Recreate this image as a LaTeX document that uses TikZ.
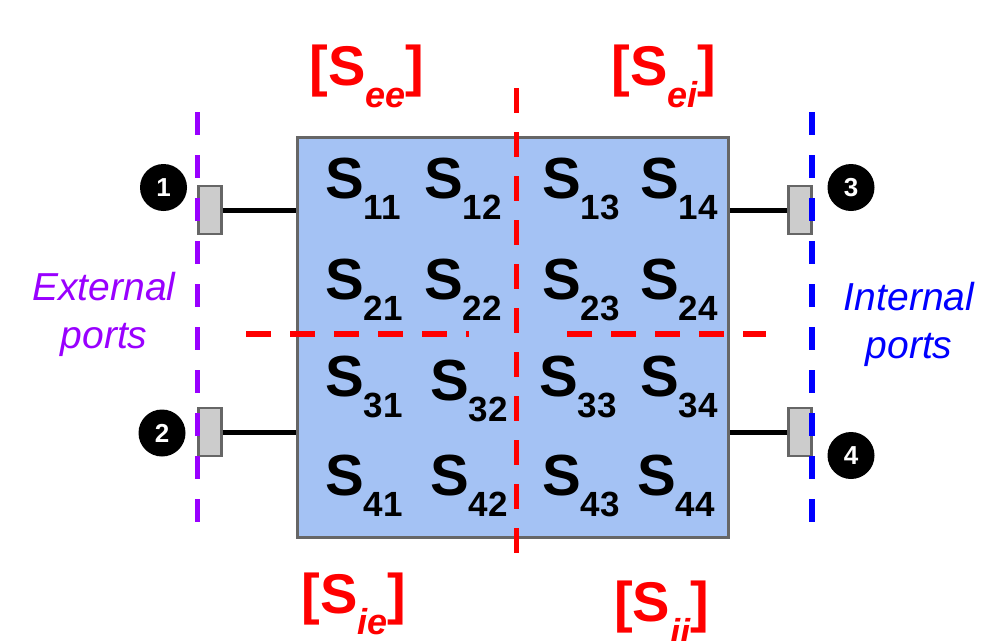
\documentclass[tikz,border=0pt]{standalone}
\usepackage{fontspec}
\setmainfont{Liberation Sans}
\definecolor{cellblue}{HTML}{A4C2F4}
\definecolor{linegray}{HTML}{666666}
\definecolor{portgray}{HTML}{CCCCCC}
\definecolor{extpurple}{HTML}{9900FF}
\newcommand{\Sel}[1]{S\raisebox{-21pt}{\fontsize{35}{35}\selectfont #1}}
\newcommand{\Sblk}[2]{[S\raisebox{-#2}{\fontsize{36}{36}\selectfont\itshape #1}]}
\begin{document}
\begin{tikzpicture}[x=1pt,y=-1pt,
    port/.style={draw=linegray,fill=portgray,line width=2.5pt,minimum width=23pt,minimum height=48pt,inner sep=0pt},
    wire/.style={line width=5pt},
    pnum/.style={circle,fill=black,text=white,minimum size=47pt,inner sep=0pt,font=\fontsize{26}{26}\selectfont\bfseries},
    sel/.style={anchor=base west,inner sep=0pt,font=\fontsize{58}{58}\selectfont\bfseries},
    blk/.style={anchor=base west,inner sep=0pt,text=red,font=\fontsize{56}{56}\selectfont\bfseries},
    sidetext/.style={align=center,inner sep=0pt,font=\fontsize{39}{48}\selectfont\itshape},
    cutline/.style={red,line width=5.5pt,dash pattern=on 25pt off 19pt},
    refplane/.style={line width=5.5pt,dash pattern=on 23pt off 20pt}]
  \useasboundingbox (0,0) rectangle (987,640);
  % the network block
  \node[draw=linegray,fill=cellblue,line width=3pt,minimum width=431pt,minimum height=400.5pt,inner sep=0pt] (box) at (512.5,337.25) {};
  % partition of the matrix
  \draw[cutline] (516.5,88) -- (516.5,553);
  \draw[cutline] (246,334) -- (469,334);
  \draw[cutline] (567,334) -- (766,334);
  % ports
  \node[port] (p1) at (210,210) {};
  \node[port] (p2) at (210,432) {};
  \node[port] (p3) at (800,210) {};
  \node[port] (p4) at (800,432) {};
  \draw[wire] (p1.east) -- (p1.east -| box.west);
  \draw[wire] (p2.east) -- (p2.east -| box.west);
  \draw[wire] (p3.west) -- (p3.west -| box.east);
  \draw[wire] (p4.west) -- (p4.west -| box.east);
  % reference planes
  \draw[refplane,extpurple] (197.5,112) -- (197.5,522);
  \draw[refplane,blue] (812,112) -- (812,522);
  \node[pnum] (n1) at (163.5,187.5) {1};
  \node[pnum] (n2) at (162,433) {2};
  \node[pnum] (n3) at (851,187.5) {3};
  \node[pnum] (n4) at (851,455.5) {4};
  \node[sidetext,text=extpurple] (ext) at (104,314) {External\\ports};
  \node[sidetext,text=blue] (int) at (909,324) {Internal\\ports};
  % S parameters
  \foreach \lab/\cx/\cy in {11/325/198,12/424/198,13/542/198,14/640/198,
      21/325/299,22/424/299,23/542/299,24/640/299,
      31/325/396,32/430/400,33/539/396,34/640/396,
      41/325/495,42/430/495,43/542/495,44/637/495}
    \node[sel] (s\lab) at (\cx,\cy) {\Sel{\lab}};
  \node[blk] (see) at (309.5,85) {\Sblk{ee}{22pt}};
  \node[blk] (sei) at (611.5,85) {\Sblk{ei}{22pt}};
  \node[blk] (sie) at (301.5,613) {\Sblk{ie}{21pt}};
  \node[blk] (sii) at (614,621) {\Sblk{ii}{23pt}};
\end{tikzpicture}
\end{document}
